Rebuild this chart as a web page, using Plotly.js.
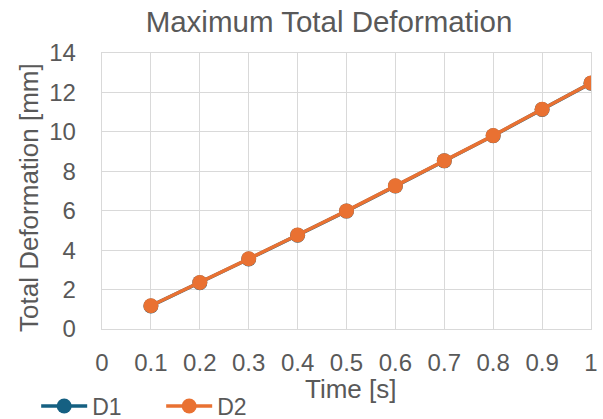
<!DOCTYPE html>
<html>
<head>
<meta charset="utf-8">
<script src="https://cdn.plot.ly/plotly-3.0.1.min.js"></script>
<style>html,body{margin:0;padding:0;background:#fff;}#chart{width:603px;height:419px;}</style>
</head>
<body>
<div id="chart"></div>
<script>
const timeS = [0.1, 0.2, 0.3, 0.4, 0.5, 0.6, 0.7, 0.8, 0.9, 1.0];
const d1 = [1.17, 2.35, 3.55, 4.76, 5.98, 7.25, 8.53, 9.80, 11.14, 12.47];
const d2 = [1.18, 2.36, 3.56, 4.77, 5.99, 7.26, 8.54, 9.81, 11.15, 12.48];
const seriesNames = ['D1', 'D2'];
const xTicks = [0, 0.1, 0.2, 0.3, 0.4, 0.5, 0.6, 0.7, 0.8, 0.9, 1];
const xTickText = ['0', '0.1', '0.2', '0.3', '0.4', '0.5', '0.6', '0.7', '0.8', '0.9', '1'];
const yTicks = [0, 2, 4, 6, 8, 10, 12, 14];
const chartTitle = 'Maximum Total Deformation';
const xTitle = 'Time [s]';
const yTitle = 'Total Deformation [mm]';

const FONT = 'Liberation Sans, Arial, sans-serif';
const TXT = '#595959';
const GRID = '#d9d9d9';

const traces = [
  {x: timeS, y: d1, name: seriesNames[0], type: 'scatter', mode: 'lines+markers',
   line: {color: '#156082', width: 3.5}, marker: {color: '#156082', size: 15}},
  {x: timeS, y: d2, name: seriesNames[1], type: 'scatter', mode: 'lines+markers',
   line: {color: '#E97132', width: 3.5}, marker: {color: '#E97132', size: 15}}
];

const layout = {
  width: 603, height: 419,
  margin: {l: 102, r: 12, t: 53, b: 90, autoexpand: false},
  paper_bgcolor: '#fff', plot_bgcolor: '#fff',
  font: {family: FONT, color: TXT, size: 24},
  title: {text: chartTitle, font: {family: FONT, color: TXT, size: 29.5},
          x: 329/603, xref: 'container', xanchor: 'center',
          y: 1 - 22/419, yref: 'container', yanchor: 'middle'},
  xaxis: {range: [0, 1], tickvals: xTicks, ticktext: xTickText,
          showgrid: true, gridcolor: GRID, gridwidth: 1,
          showline: true, linecolor: GRID, linewidth: 1.3, mirror: true,
          zeroline: false, ticks: 'outside', ticklen: 12, tickcolor: 'rgba(0,0,0,0)',
          tickfont: {family: FONT, color: TXT, size: 24}, fixedrange: true, automargin: false},
  yaxis: {range: [0, 14], tickvals: yTicks,
          showgrid: true, gridcolor: GRID, gridwidth: 1,
          showline: true, linecolor: GRID, linewidth: 1.3, mirror: true,
          zeroline: false, ticks: 'outside', ticklen: 20, tickcolor: 'rgba(0,0,0,0)',
          tickfont: {family: FONT, color: TXT, size: 24}, fixedrange: true, automargin: false},
  showlegend: true,
  legend: {orientation: 'h', xref: 'container', yref: 'container',
           x: 0.060, xanchor: 'left', y: 1 - 406/419, yanchor: 'middle',
           font: {family: FONT, color: TXT, size: 23},
           entrywidth: 64, entrywidthmode: 'pixels', itemwidth: 46,
           bgcolor: 'rgba(0,0,0,0)', borderwidth: 0},
  annotations: [
    {text: xTitle, xref: 'paper', yref: 'paper', x: (350-102)/489, y: -(389-329)/276,
     xanchor: 'center', yanchor: 'middle', showarrow: false,
     font: {family: FONT, color: TXT, size: 26}},
    {text: yTitle, xref: 'paper', yref: 'paper', x: (28.5-102)/489, y: (329-197.5)/276,
     xanchor: 'center', yanchor: 'middle', showarrow: false, textangle: -90,
     font: {family: FONT, color: TXT, size: 26}}
  ]
};

Plotly.newPlot('chart', traces, layout, {displayModeBar: false, staticPlot: true});
</script>
</body>
</html>
